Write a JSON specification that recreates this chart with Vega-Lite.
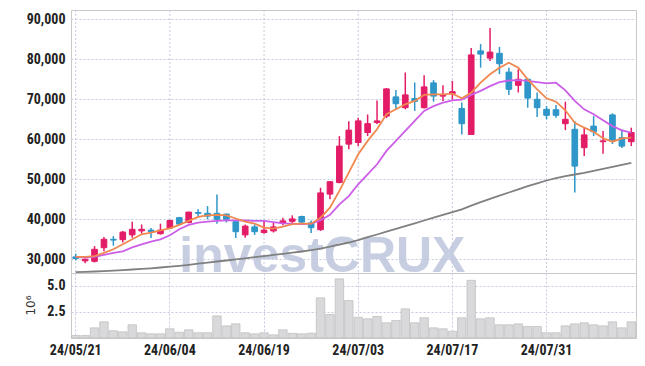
{
  "$schema": "https://vega.github.io/schema/vega-lite/v6.json",
  "padding": {"left": 23, "top": 9, "right": 5, "bottom": 5},
  "spacing": 0,
  "bounds": "flush",
  "background": "white",
  "config": {
    "view": {"stroke": "#c9c9c9", "strokeWidth": 1},
    "concat": {"spacing": 0},
    "axis": {
      "labelFont": "Liberation Sans Narrow, Roboto Condensed, DejaVu Sans Condensed, sans-serif",
      "labelFontWeight": "bold",
      "labelFontSize": 14,
      "labelColor": "#222222",
      "domain": false,
      "ticks": false,
      "gridColor": "#c5c9de",
      "gridDash": [2, 2],
      "gridWidth": 1
    }
  },
  "datasets": {
    "d": [
      {"date": "24/05/21", "o": 30600, "h": 31400, "l": 29700, "c": 30200, "v": 240000, "ma5": 30600, "ma20": 30600, "ma60": 26800},
      {"date": "24/05/22", "o": 29600, "h": 30200, "l": 29000, "c": 30000, "v": 240000, "ma5": 30600, "ma20": 30400, "ma60": 26850},
      {"date": "24/05/23", "o": 29500, "h": 33300, "l": 29200, "c": 32500, "v": 970000, "ma5": 30800, "ma20": 30600, "ma60": 26950},
      {"date": "24/05/24", "o": 32900, "h": 35600, "l": 32000, "c": 35000, "v": 1540000, "ma5": 31600, "ma20": 31100, "ma60": 27050},
      {"date": "24/05/27", "o": 35000, "h": 35800, "l": 33400, "c": 34800, "v": 690000, "ma5": 32500, "ma20": 31600, "ma60": 27150},
      {"date": "24/05/28", "o": 34900, "h": 37100, "l": 34200, "c": 36800, "v": 590000, "ma5": 33750, "ma20": 32000, "ma60": 27300},
      {"date": "24/05/29", "o": 36100, "h": 39400, "l": 35400, "c": 37500, "v": 1260000, "ma5": 35000, "ma20": 33000, "ma60": 27450},
      {"date": "24/05/30", "o": 37100, "h": 38700, "l": 36400, "c": 37500, "v": 500000, "ma5": 36250, "ma20": 33750, "ma60": 27600},
      {"date": "24/05/31", "o": 37300, "h": 37800, "l": 35300, "c": 36900, "v": 400000, "ma5": 36650, "ma20": 34400, "ma60": 27750},
      {"date": "24/06/03", "o": 36400, "h": 38900, "l": 36200, "c": 37300, "v": 400000, "ma5": 37250, "ma20": 35000, "ma60": 27950},
      {"date": "24/06/04", "o": 37800, "h": 39900, "l": 37600, "c": 39700, "v": 880000, "ma5": 37750, "ma20": 36000, "ma60": 28150},
      {"date": "24/06/05", "o": 40400, "h": 40600, "l": 38600, "c": 38800, "v": 550000, "ma5": 38600, "ma20": 37500, "ma60": 28350},
      {"date": "24/06/07", "o": 39200, "h": 41900, "l": 39000, "c": 41800, "v": 780000, "ma5": 39600, "ma20": 38600, "ma60": 28600},
      {"date": "24/06/10", "o": 41700, "h": 42500, "l": 40500, "c": 41500, "v": 500000, "ma5": 40600, "ma20": 39150, "ma60": 28900},
      {"date": "24/06/11", "o": 41500, "h": 43300, "l": 40000, "c": 40800, "v": 500000, "ma5": 41000, "ma20": 39400, "ma60": 29150},
      {"date": "24/06/12", "o": 41500, "h": 46200, "l": 38900, "c": 40000, "v": 2110000, "ma5": 41100, "ma20": 39600, "ma60": 29450},
      {"date": "24/06/13", "o": 41300, "h": 41400, "l": 39200, "c": 40000, "v": 1160000, "ma5": 41000, "ma20": 39750, "ma60": 29700},
      {"date": "24/06/14", "o": 39400, "h": 39600, "l": 35300, "c": 36900, "v": 1350000, "ma5": 40200, "ma20": 39750, "ma60": 30000},
      {"date": "24/06/17", "o": 36100, "h": 38700, "l": 35400, "c": 38300, "v": 500000, "ma5": 39400, "ma20": 39700, "ma60": 30250},
      {"date": "24/06/18", "o": 38100, "h": 38700, "l": 36100, "c": 36900, "v": 400000, "ma5": 38900, "ma20": 39600, "ma60": 30550},
      {"date": "24/06/19", "o": 36700, "h": 39600, "l": 36400, "c": 37300, "v": 500000, "ma5": 37900, "ma20": 39600, "ma60": 30800},
      {"date": "24/06/20", "o": 37100, "h": 39100, "l": 36700, "c": 38100, "v": 300000, "ma5": 37650, "ma20": 39300, "ma60": 31100},
      {"date": "24/06/21", "o": 39000, "h": 40400, "l": 38500, "c": 39600, "v": 780000, "ma5": 38150, "ma20": 39000, "ma60": 31350},
      {"date": "24/06/24", "o": 39500, "h": 41000, "l": 38800, "c": 40100, "v": 450000, "ma5": 38800, "ma20": 38900, "ma60": 31650},
      {"date": "24/06/25", "o": 40700, "h": 40900, "l": 38600, "c": 39300, "v": 400000, "ma5": 38900, "ma20": 38800, "ma60": 31950},
      {"date": "24/06/26", "o": 39100, "h": 39700, "l": 36600, "c": 37900, "v": 460000, "ma5": 38900, "ma20": 38900, "ma60": 32300},
      {"date": "24/06/27", "o": 37400, "h": 47900, "l": 37100, "c": 46600, "v": 3830000, "ma5": 40400, "ma20": 39750, "ma60": 32650},
      {"date": "24/06/28", "o": 46300, "h": 49500, "l": 45000, "c": 49400, "v": 2240000, "ma5": 42900, "ma20": 41100, "ma60": 33150},
      {"date": "24/07/01", "o": 49200, "h": 60800, "l": 49000, "c": 58300, "v": 5640000, "ma5": 47100, "ma20": 43750, "ma60": 33700},
      {"date": "24/07/02", "o": 58800, "h": 64500, "l": 57500, "c": 62300, "v": 3570000, "ma5": 51650, "ma20": 45800, "ma60": 34200},
      {"date": "24/07/03", "o": 59200, "h": 65400, "l": 58300, "c": 64600, "v": 1980000, "ma5": 56250, "ma20": 48750, "ma60": 34800},
      {"date": "24/07/04", "o": 61700, "h": 66200, "l": 60800, "c": 63900, "v": 1830000, "ma5": 59600, "ma20": 51250, "ma60": 35550},
      {"date": "24/07/05", "o": 64200, "h": 69700, "l": 63800, "c": 64600, "v": 2050000, "ma5": 62500, "ma20": 53750, "ma60": 36200},
      {"date": "24/07/08", "o": 65800, "h": 72800, "l": 65300, "c": 72600, "v": 1450000, "ma5": 66250, "ma20": 57100, "ma60": 36900},
      {"date": "24/07/09", "o": 70600, "h": 72300, "l": 67300, "c": 68900, "v": 1670000, "ma5": 67500, "ma20": 59600, "ma60": 37600},
      {"date": "24/07/10", "o": 67900, "h": 76700, "l": 67500, "c": 71100, "v": 2780000, "ma5": 68750, "ma20": 62100, "ma60": 38300},
      {"date": "24/07/11", "o": 70200, "h": 74200, "l": 67100, "c": 69500, "v": 1450000, "ma5": 69600, "ma20": 64600, "ma60": 39000},
      {"date": "24/07/12", "o": 67900, "h": 76000, "l": 67700, "c": 73100, "v": 1930000, "ma5": 71100, "ma20": 67100, "ma60": 39700},
      {"date": "24/07/15", "o": 74100, "h": 74800, "l": 69400, "c": 70800, "v": 970000, "ma5": 71250, "ma20": 68300, "ma60": 40400},
      {"date": "24/07/16", "o": 70800, "h": 73500, "l": 69600, "c": 71000, "v": 880000, "ma5": 71250, "ma20": 69150, "ma60": 41100},
      {"date": "24/07/17", "o": 71400, "h": 74600, "l": 69900, "c": 71900, "v": 640000, "ma5": 71400, "ma20": 69750, "ma60": 41800},
      {"date": "24/07/18", "o": 67700, "h": 69200, "l": 61200, "c": 63900, "v": 1930000, "ma5": 70250, "ma20": 69900, "ma60": 42500},
      {"date": "24/07/19", "o": 61200, "h": 82800, "l": 61100, "c": 81100, "v": 5500000, "ma5": 71650, "ma20": 71100, "ma60": 43400},
      {"date": "24/07/22", "o": 82100, "h": 83800, "l": 77900, "c": 81300, "v": 1830000, "ma5": 74150, "ma20": 72100, "ma60": 44300},
      {"date": "24/07/23", "o": 80300, "h": 87800, "l": 79600, "c": 81800, "v": 1930000, "ma5": 76250, "ma20": 73300, "ma60": 45100},
      {"date": "24/07/24", "o": 81500, "h": 83100, "l": 76300, "c": 78900, "v": 1260000, "ma5": 77900, "ma20": 74300, "ma60": 45900},
      {"date": "24/07/25", "o": 76800, "h": 77900, "l": 71100, "c": 72500, "v": 1260000, "ma5": 79150, "ma20": 74700, "ma60": 46700},
      {"date": "24/07/26", "o": 73500, "h": 77500, "l": 71700, "c": 75000, "v": 1350000, "ma5": 77900, "ma20": 74800, "ma60": 47500},
      {"date": "24/07/29", "o": 75000, "h": 75200, "l": 67900, "c": 70300, "v": 1100000, "ma5": 75000, "ma20": 74600, "ma60": 48300},
      {"date": "24/07/30", "o": 70000, "h": 71700, "l": 65600, "c": 67900, "v": 1100000, "ma5": 72500, "ma20": 74300, "ma60": 49000},
      {"date": "24/07/31", "o": 67500, "h": 68300, "l": 65000, "c": 66000, "v": 500000, "ma5": 70250, "ma20": 74000, "ma60": 49700},
      {"date": "24/08/01", "o": 67400, "h": 68600, "l": 65400, "c": 66000, "v": 500000, "ma5": 69400, "ma20": 74150, "ma60": 50300},
      {"date": "24/08/02", "o": 63900, "h": 69400, "l": 62300, "c": 65000, "v": 1160000, "ma5": 67250, "ma20": 72250, "ma60": 50800},
      {"date": "24/08/05", "o": 62500, "h": 64600, "l": 46700, "c": 53300, "v": 1350000, "ma5": 64150, "ma20": 69600, "ma60": 51200},
      {"date": "24/08/06", "o": 57900, "h": 62900, "l": 55800, "c": 61100, "v": 1450000, "ma5": 62900, "ma20": 67500, "ma60": 51600},
      {"date": "24/08/07", "o": 63300, "h": 65800, "l": 60800, "c": 61900, "v": 1260000, "ma5": 61900, "ma20": 66250, "ma60": 52100},
      {"date": "24/08/08", "o": 59400, "h": 62100, "l": 56400, "c": 59600, "v": 1160000, "ma5": 60250, "ma20": 64750, "ma60": 52600},
      {"date": "24/08/09", "o": 66100, "h": 66500, "l": 58800, "c": 59800, "v": 1540000, "ma5": 59400, "ma20": 63300, "ma60": 53100},
      {"date": "24/08/12", "o": 60400, "h": 62500, "l": 57800, "c": 58300, "v": 970000, "ma5": 60250, "ma20": 62250, "ma60": 53600},
      {"date": "24/08/13", "o": 59400, "h": 62900, "l": 58300, "c": 61700, "v": 1540000, "ma5": 60400, "ma20": 61650, "ma60": 54100}
    ]
  },
  "vconcat": [
    {
      "width": 565,
      "height": 263,
      "layer": [
        {
          "data": {"name": "d"},
          "transform": [{"filter": "indexof(['24/05/21','24/06/04','24/06/19','24/07/03','24/07/17','24/07/31'], datum.date) >= 0"}],
          "mark": {"type": "rule", "color": "#c5c9de", "strokeDash": [2, 2], "strokeWidth": 1},
          "encoding": {
            "x": {"field": "date", "type": "ordinal", "scale": {"paddingInner": 0, "paddingOuter": 0}, "axis": null}
          }
        },
        {
          "data": {"values": [{"label": "investCRUX"}]},
          "mark": {"type": "text", "clip": true, "font": "Liberation Sans, Arial, sans-serif", "fontWeight": "bold", "fontSize": 50, "fill": "#bfc6de", "opacity": 0.85, "align": "left", "baseline": "alphabetic"},
          "encoding": {
            "x": {"datum": "24/06/05", "type": "ordinal", "scale": {"paddingInner": 0, "paddingOuter": 0}, "axis": null},
            "y": {"datum": 26800, "type": "quantitative", "scale": {"domain": [26575, 92325], "nice": false, "zero": false}, "axis": {"values": [30000, 40000, 50000, 60000, 70000, 80000, 90000], "labelExpr": "format(datum.value, ',')", "grid": true, "labelPadding": 6, "title": null}},
            "text": {"field": "label"}
          }
        },
        {
          "data": {"name": "d"},
          "mark": {"type": "rule", "strokeWidth": 1.5},
          "encoding": {
            "x": {"field": "date", "type": "ordinal", "scale": {"paddingInner": 0, "paddingOuter": 0}, "axis": null},
            "y": {"field": "l", "type": "quantitative", "scale": {"domain": [26575, 92325], "nice": false, "zero": false}, "axis": {"values": [30000, 40000, 50000, 60000, 70000, 80000, 90000], "labelExpr": "format(datum.value, ',')", "grid": true, "labelPadding": 6, "title": null}},
            "y2": {"field": "h"},
            "color": {"condition": {"test": "datum.c >= datum.o", "value": "#e31c67"}, "value": "#2e96c8"}
          }
        },
        {
          "data": {"name": "d"},
          "mark": {"type": "bar", "width": {"band": 0.6}, "strokeWidth": 1},
          "encoding": {
            "x": {"field": "date", "type": "ordinal", "scale": {"paddingInner": 0, "paddingOuter": 0}, "axis": null},
            "y": {"field": "o", "type": "quantitative", "scale": {"domain": [26575, 92325], "nice": false, "zero": false}, "axis": {"values": [30000, 40000, 50000, 60000, 70000, 80000, 90000], "labelExpr": "format(datum.value, ',')", "grid": true, "labelPadding": 6, "title": null}},
            "y2": {"field": "c"},
            "fill": {"condition": {"test": "datum.c >= datum.o", "value": "#e31c67"}, "value": "#2e96c8"},
            "stroke": {"condition": {"test": "datum.c >= datum.o", "value": "#e31c67"}, "value": "#2e96c8"}
          }
        },
        {
          "data": {"name": "d"},
          "mark": {"type": "line", "color": "#808080", "strokeWidth": 1.8},
          "encoding": {
            "x": {"field": "date", "type": "ordinal", "scale": {"paddingInner": 0, "paddingOuter": 0}, "axis": null},
            "y": {"field": "ma60", "type": "quantitative", "scale": {"domain": [26575, 92325], "nice": false, "zero": false}, "axis": {"values": [30000, 40000, 50000, 60000, 70000, 80000, 90000], "labelExpr": "format(datum.value, ',')", "grid": true, "labelPadding": 6, "title": null}}
          }
        },
        {
          "data": {"name": "d"},
          "mark": {"type": "line", "color": "#cc5ee8", "strokeWidth": 1.8},
          "encoding": {
            "x": {"field": "date", "type": "ordinal", "scale": {"paddingInner": 0, "paddingOuter": 0}, "axis": null},
            "y": {"field": "ma20", "type": "quantitative", "scale": {"domain": [26575, 92325], "nice": false, "zero": false}, "axis": {"values": [30000, 40000, 50000, 60000, 70000, 80000, 90000], "labelExpr": "format(datum.value, ',')", "grid": true, "labelPadding": 6, "title": null}}
          }
        },
        {
          "data": {"name": "d"},
          "mark": {"type": "line", "color": "#f08850", "strokeWidth": 1.8},
          "encoding": {
            "x": {"field": "date", "type": "ordinal", "scale": {"paddingInner": 0, "paddingOuter": 0}, "axis": null},
            "y": {"field": "ma5", "type": "quantitative", "scale": {"domain": [26575, 92325], "nice": false, "zero": false}, "axis": {"values": [30000, 40000, 50000, 60000, 70000, 80000, 90000], "labelExpr": "format(datum.value, ',')", "grid": true, "labelPadding": 6, "title": null}}
          }
        }
      ]
    },
    {
      "width": 565,
      "height": 65,
      "data": {"name": "d"},
      "mark": {"type": "bar", "width": {"band": 0.9}, "fill": "#d9d9dc", "stroke": "#bcbcbc", "strokeWidth": 0.7},
      "encoding": {
        "x": {
          "field": "date", "type": "ordinal",
          "scale": {"paddingInner": 0, "paddingOuter": 0},
          "axis": {"values": ["24/05/21", "24/06/04", "24/06/19", "24/07/03", "24/07/17", "24/07/31"], "labelAngle": 0, "labelAlign": "center", "labelPadding": 5, "grid": true, "bandPosition": 0.5, "title": null}
        },
        "y": {
          "field": "v", "type": "quantitative",
          "scale": {"domain": [0, 6200000], "nice": false},
          "axis": {
            "values": [2500000, 5000000],
            "labelExpr": "format(datum.value / 1000000, '.1f')",
            "labelPadding": 6,
            "grid": true,
            "title": "10⁶",
            "titleFont": "DejaVu Sans, sans-serif",
            "titleFontWeight": "normal",
            "titleFontSize": 12,
            "titleColor": "#333333",
            "titleAngle": -90,
            "titleX": -41,
            "titleY": 32,
            "titleAlign": "center",
            "titleBaseline": "middle"
          }
        }
      }
    }
  ]
}
